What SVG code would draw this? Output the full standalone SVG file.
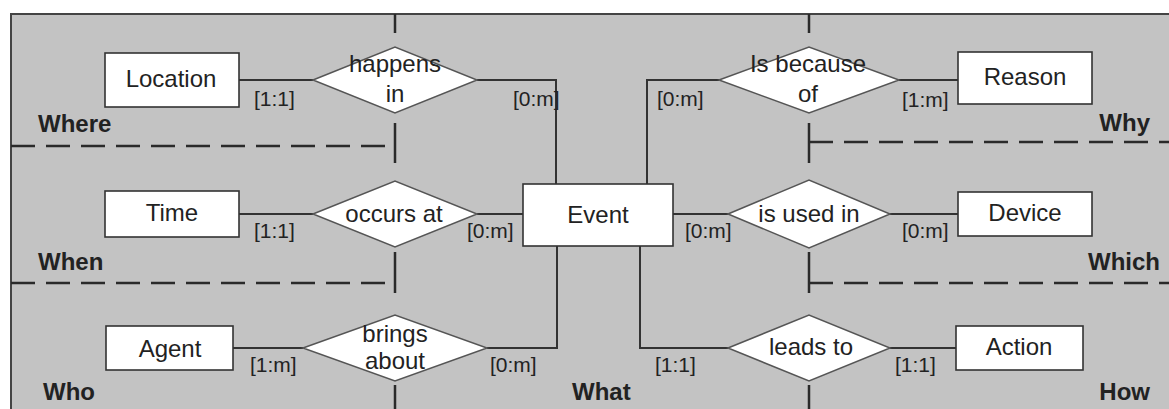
<svg xmlns="http://www.w3.org/2000/svg" width="1169" height="409" viewBox="0 0 1169 409">
<style>
.ent{fill:#fff;stroke:#333;stroke-width:1.6}
.rel{fill:#fff;stroke:#555;stroke-width:1.5}
.con{fill:none;stroke:#333;stroke-width:2}
.sep{fill:none;stroke:#2a2a2a;stroke-width:2.5}
.dash{fill:none;stroke:#2a2a2a;stroke-width:2.5;stroke-dasharray:24 11}
text{font-family:"Liberation Sans",Arial,sans-serif;fill:#222}
.t{font-size:24px;text-anchor:middle}
.c{font-size:21px}
.b{font-size:24px;font-weight:bold}
</style>
<rect x="0" y="0" width="1169" height="409" fill="#fff"/>
<rect x="11" y="14" width="1170" height="400" fill="#c3c3c3" stroke="#444" stroke-width="2"/>
<g id="separators">
<path class="dash" d="M11 146H395"/>
<path class="dash" d="M11 283H395"/>
<path class="dash" d="M809 142H1169"/>
<path class="dash" d="M809 283H1169"/>
<path class="sep" d="M395 14V33M395 123V163M395 252V293M395 385V409"/>
<path class="sep" d="M809 14V33M809 123V163M809 252V293M809 385V409"/>
</g>
<g id="connectors">
<path class="con" d="M239 80H313"/>
<path class="con" d="M477 80H556V184"/>
<path class="con" d="M647 184V80H719"/>
<path class="con" d="M899 80H958"/>
<path class="con" d="M239 214H313"/>
<path class="con" d="M477 214H523"/>
<path class="con" d="M673 214H728"/>
<path class="con" d="M890 214H958"/>
<path class="con" d="M233 348H303"/>
<path class="con" d="M487 348H557V246"/>
<path class="con" d="M640 246V348H728"/>
<path class="con" d="M890 348H956"/>
<text class="c" x="254" y="106">[1:1]</text>
<text class="c" x="513" y="106">[0:m]</text>
<text class="c" x="657" y="106">[0:m]</text>
<text class="c" x="902" y="107">[1:m]</text>
<text class="c" x="254" y="238">[1:1]</text>
<text class="c" x="467" y="238">[0:m]</text>
<text class="c" x="685" y="238">[0:m]</text>
<text class="c" x="902" y="238">[0:m]</text>
<text class="c" x="250" y="372">[1:m]</text>
<text class="c" x="490" y="372">[0:m]</text>
<text class="c" x="655" y="372">[1:1]</text>
<text class="c" x="895" y="372">[1:1]</text>
</g>
<g id="location"><rect class="ent" x="105" y="53" width="134" height="54"/><text class="t" x="171" y="87">Location</text></g>
<g id="time"><rect class="ent" x="105" y="191" width="134" height="46"/><text class="t" x="172" y="221">Time</text></g>
<g id="agent"><rect class="ent" x="106" y="326" width="127" height="44"/><text class="t" x="170" y="357">Agent</text></g>
<g id="event"><rect class="ent" x="523" y="184" width="150" height="62"/><text class="t" x="598" y="223">Event</text></g>
<g id="reason"><rect class="ent" x="958" y="52" width="134" height="52"/><text class="t" x="1025" y="85">Reason</text></g>
<g id="device"><rect class="ent" x="958" y="192" width="134" height="44"/><text class="t" x="1025" y="221">Device</text></g>
<g id="action"><rect class="ent" x="956" y="326" width="127" height="44"/><text class="t" x="1019" y="355">Action</text></g>
<g id="happens-in"><polygon class="rel" points="313,80 395,47 477,80 395,113"/><text class="t" x="395" y="72">happens</text><text class="t" x="395" y="102">in</text></g>
<g id="is-because-of"><polygon class="rel" points="719,80 809,47 899,80 809,113"/><text class="t" x="808" y="72">Is because</text><text class="t" x="808" y="102">of</text></g>
<g id="occurs-at"><polygon class="rel" points="313,214 395,181 477,214 395,247"/><text class="t" x="394" y="222">occurs at</text></g>
<g id="is-used-in"><polygon class="rel" points="728,214 809,180 890,214 809,248"/><text class="t" x="809" y="222">is used in</text></g>
<g id="brings-about"><polygon class="rel" points="303,348 395,315 487,348 395,381"/><text class="t" x="395" y="342">brings</text><text class="t" x="395" y="369">about</text></g>
<g id="leads-to"><polygon class="rel" points="728,348 809,315 890,348 809,381"/><text class="t" x="811" y="355">leads to</text></g>
<g id="dimensions">
<text class="b" x="38" y="132">Where</text>
<text class="b" x="38" y="270">When</text>
<text class="b" x="43" y="400">Who</text>
<text class="b" x="572" y="400">What</text>
<text class="b" x="1150" y="131" text-anchor="end">Why</text>
<text class="b" x="1160" y="270" text-anchor="end">Which</text>
<text class="b" x="1150" y="400" text-anchor="end">How</text>
</g>
</svg>
